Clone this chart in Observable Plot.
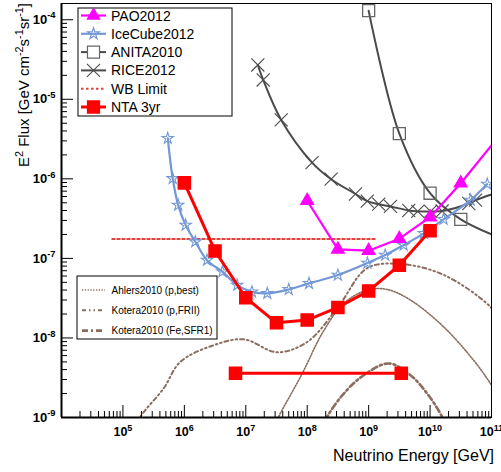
<!DOCTYPE html>
<html><head><meta charset="utf-8">
<script src="https://cdn.jsdelivr.net/npm/d3@7"></script>
<script src="https://cdn.jsdelivr.net/npm/@observablehq/plot@0.6"></script>
<style>body{margin:0;background:#fff;} svg{font-family:"Liberation Sans",Arial,Helvetica,sans-serif;}</style>
</head><body><div id="chart"></div>
<script>
// ---- data (energy in GeV, E^2 flux in GeV cm^-2 s^-1 sr^-1) ----
const paoE = [1e8, 3.16e8, 1e9, 3.16e9, 1e10, 3.16e10, 3.16e11];
const paoF = [5.3e-7, 1.3e-7, 1.25e-7, 1.77e-7, 3.3e-7, 8.8e-7, 7.9e-6];

const iceE = [5.37e5, 6.46e5, 7.94e5, 1.05e6, 1.51e6, 2.34e6, 4.17e6, 7.24e6, 1.26e7, 2.24e7, 5.0e7, 1.07e8, 3.16e8, 9.55e8, 1.86e9, 3.72e9, 7.94e9, 1.66e10, 4.57e10, 8.5e10];
const iceF = [3.23e-6, 1.01e-6, 4.68e-7, 2.62e-7, 1.62e-7, 9.5e-8, 6.8e-8, 4.61e-8, 3.8e-8, 3.63e-8, 4.07e-8, 4.85e-8, 6.17e-8, 8.73e-8, 1.1e-7, 1.47e-7, 2.06e-7, 3.1e-7, 5.4e-7, 8.6e-7];

const anitaE = [1e9, 3.16e9, 1e10, 3.16e10, 3.16e11];
const anitaF = [1.3e-4, 3.7e-6, 6.6e-7, 3.1e-7, 1.41e-7];

const riceE = [1.57e7, 1.92e7, 3.77e7, 1.2e8, 2.45e8, 6.1e8, 9.5e8, 1.46e9, 2.27e9, 4.5e9, 6.3e9, 1.02e10, 1.57e10, 4.27e10, 5.5e10, 2e11];
const riceF = [2.7e-5, 1.75e-5, 5.5e-6, 1.6e-6, 9.9e-7, 6.45e-7, 5.25e-7, 4.8e-7, 4.5e-7, 4.0e-7, 3.9e-7, 3.9e-7, 3.94e-7, 4.9e-7, 5.4e-7, 7.6e-7];

const wbE = [6.7e4, 1.38e9];
const wbF = [1.75e-7, 1.75e-7];

const ntaE = [1e6, 3.16e6, 1e7, 3.16e7, 1e8, 3.16e8, 1e9, 3.16e9, 1e10];
const ntaF = [8.9e-7, 1.24e-7, 3.2e-8, 1.55e-8, 1.68e-8, 2.42e-8, 3.9e-8, 8.2e-8, 2.22e-7];

const ntaLowE = [6.8e6, 3.4e9];
const ntaLowF = [3.6e-9, 3.6e-9];

const ahlersE = [2.24e7, 3.4e7, 8.3e7, 1.75e8, 3.94e8, 9.5e8, 2e9, 4.8e9, 1.66e10, 5.1e10, 9.6e10, 1.6e11];
const ahlersF = [5e-10, 1.01e-9, 3.57e-9, 1.14e-8, 2.72e-8, 4e-8, 4.07e-8, 2.99e-8, 1.38e-8, 5.26e-9, 2.68e-9, 1.4e-9];

const froE = [1.26e5, 1.93e5, 4.6e5, 8.6e5, 3.0e6, 9.3e6, 3.24e7, 1e8, 3.15e8, 9.5e8, 3.3e9, 1.67e10, 9.6e10, 1.6e11];
const froF = [5e-10, 1.02e-9, 2.32e-9, 5e-9, 8.1e-9, 9.6e-9, 6.6e-9, 8.9e-9, 2.42e-8, 7.55e-8, 8.5e-8, 6.2e-8, 2.46e-8, 1.4e-8];

const feE = [1.58e8, 2.11e8, 3.94e8, 8.3e8, 2.13e9, 4.8e9, 8.97e9, 1.57e10, 2e10];
const feF = [6.3e-10, 1.02e-9, 2.0e-9, 3.4e-9, 4.78e-9, 3.4e-9, 2.0e-9, 1.02e-9, 6.3e-10];

const legendTop = ["PAO2012", "IceCube2012", "ANITA2010", "RICE2012", "WB Limit", "NTA 3yr"];
const legendModels = ["Ahlers2010 (p,best)", "Kotera2010 (p,FRII)", "Kotera2010 (Fe,SFR1)"];

const xTickLabels = [1e5, 1e6, 1e7, 1e8, 1e9, 1e10, 1e11];
const yTickLabels = [1e-9, 1e-8, 1e-7, 1e-6, 1e-5, 1e-4];
const xTitle = "Neutrino Energy [GeV]";
const yTitle = "E^{2} Flux [GeV cm^{-2}s^{-1}sr^{-1}]";

// ---- layout ----
const W = 501, H = 472, mL = 61, mR = 10, mT = 3, mB = 55;
const plotW = W - mL - mR, plotH = H - mT - mB;
const xDomain = [1e4, 1e11], yDomain = [1e-9, 1.6e-4];
const blue = "#7398d6", gray = "#4a4a4a", magenta = "#ff00ff", red = "#ff0000", wbRed = "#e0443c", brown = "#8a6d5e";

const zip = (E, F) => E.map((e, i) => ({e, f: F[i]}));
const pao = zip(paoE, paoF), ice = zip(iceE, iceF), anita = zip(anitaE, anitaF), rice = zip(riceE, riceF);
const wb = zip(wbE, wbF), nta = zip(ntaE, ntaF), ntaLow = zip(ntaLowE, ntaLowF);
const ahlers = zip(ahlersE, ahlersF), fro = zip(froE, froF), fe = zip(feE, feF);

const xMajor = d3.range(4, 12).map(n => Math.pow(10, n));
const yMajor = d3.range(-9, -3).map(n => Math.pow(10, n));
const xMinor = [], yMinor = [];
for (let n = 4; n < 11; n++) for (let k = 2; k < 10; k++) xMinor.push(k * Math.pow(10, n));
for (let n = -9; n < -3; n++) for (let k = 2; k < 10; k++) { const v = k * Math.pow(10, n); if (v < yDomain[1]) yMinor.push(v); }

const fmt = d => `10^{${Math.round(Math.log10(d))}}`;

const chart = Plot.plot({
  width: W, height: H, marginLeft: mL, marginRight: mR, marginTop: mT, marginBottom: mB,
  style: {fontFamily: "Liberation Sans, Arial, Helvetica, sans-serif", background: "#fff", color: "#000"},
  x: {type: "log", domain: xDomain},
  y: {type: "log", domain: yDomain},
  marks: [
    // theoretical models
    Plot.line(ahlers, {x: "e", y: "f", curve: "catmull-rom", stroke: brown, strokeWidth: 1.6, strokeDasharray: "1.2,1.6", clip: true}),
    Plot.line(fro, {x: "e", y: "f", curve: "catmull-rom", stroke: brown, strokeWidth: 2, strokeDasharray: "4,3,1.5,3,1.5,3", clip: true}),
    Plot.line(fe, {x: "e", y: "f", curve: "catmull-rom", stroke: brown, strokeWidth: 2.6, strokeDasharray: "6,3,2,3", clip: true}),
    // WB limit
    Plot.line(wb, {x: "e", y: "f", stroke: wbRed, strokeWidth: 2, strokeDasharray: "2.5,2.5", clip: true}),
    // RICE
    Plot.line(rice, {x: "e", y: "f", curve: "catmull-rom", stroke: gray, strokeWidth: 2, clip: true}),
    Plot.dot(rice, {x: "e", y: "f", symbol: "times", r: 6, stroke: gray, strokeWidth: 1.1, clip: true}),
    // ANITA
    Plot.line(anita, {x: "e", y: "f", curve: "catmull-rom", stroke: gray, strokeWidth: 2, clip: true}),
    Plot.dot(anita, {x: "e", y: "f", symbol: "square", r: 6.8, fill: "none", stroke: "#666", strokeWidth: 1.3, clip: true}),
    // IceCube
    Plot.line(ice, {x: "e", y: "f", curve: "catmull-rom", stroke: blue, strokeWidth: 2.2, clip: true}),
    Plot.dot(ice, {x: "e", y: "f", symbol: "star", r: 3.6, fill: "none", stroke: blue, strokeWidth: 1.1, clip: true}),
    // PAO
    Plot.line(pao, {x: "e", y: "f", stroke: magenta, strokeWidth: 2.2, clip: true}),
    Plot.dot(pao, {x: "e", y: "f", symbol: "triangle", r: 4.6, fill: magenta, stroke: magenta, clip: true}),
    // NTA
    Plot.line(nta, {x: "e", y: "f", stroke: red, strokeWidth: 3, clip: true}),
    Plot.dot(nta, {x: "e", y: "f", symbol: "square", r: 6.8, fill: red, stroke: red, clip: true}),
    Plot.line(ntaLow, {x: "e", y: "f", stroke: red, strokeWidth: 3, clip: true}),
    Plot.dot(ntaLow, {x: "e", y: "f", symbol: "square", r: 6.8, fill: red, stroke: red, clip: true}),
    // frame, ticks
    Plot.frame({stroke: "#000", strokeWidth: 1}),
    Plot.ruleX([xDomain[0]], {stroke: "#000", strokeWidth: 2}),
    Plot.ruleY([yDomain[0]], {stroke: "#000", strokeWidth: 2}),
    Plot.tickX(xMinor, {x: d => d, insetTop: plotH - 6, stroke: "#000", strokeWidth: 1}),
    Plot.tickX(xMajor, {x: d => d, insetTop: plotH - 12, stroke: "#000", strokeWidth: 1}),
    Plot.tickY(yMinor, {y: d => d, insetRight: plotW - 6, stroke: "#000", strokeWidth: 1}),
    Plot.tickY(yMajor, {y: d => d, insetRight: plotW - 12, stroke: "#000", strokeWidth: 1}),
    Plot.axisX(xTickLabels, {tickSize: 0, tickPadding: 10, tickFormat: fmt, fontSize: 12.5, fontWeight: "bold", label: null}),
    Plot.axisY(yTickLabels, {tickSize: 0, tickPadding: 6, tickFormat: fmt, fontSize: 13, fontWeight: "bold", label: null})
  ]
});
document.getElementById("chart").append(chart);

// rich text with superscripts ^{...}
function rich(node, str, fs) {
  const t = d3.select(node);
  t.text(null);
  const re = /\^\{([^}]*)\}/g;
  const sh = fs * 0.42;
  let last = 0, m, up = false;
  while ((m = re.exec(str))) {
    if (m.index > last) { t.append("tspan").attr("dy", up ? sh : null).text(str.slice(last, m.index)); up = false; }
    t.append("tspan").attr("dy", up ? null : -sh).attr("font-size", fs * 0.72).text(m[1]);
    up = true; last = re.lastIndex;
  }
  if (last < str.length) t.append("tspan").attr("dy", up ? sh : null).text(str.slice(last));
}

const svg = d3.select(chart);
svg.selectAll("text").each(function() {
  const s = this.textContent;
  if (s.startsWith("10^{")) {
    const fs = +d3.select(this.parentNode).attr("font-size") || 12.5;
    d3.select(this).attr("font-weight", "bold");
    rich(this, s, fs);
  }
});

// axis titles
const yt = svg.append("text").attr("transform", `translate(29,3) rotate(-90)`)
  .attr("text-anchor", "end").attr("font-size", 15).attr("fill", "#000");
rich(yt.node(), yTitle, 15);
svg.append("text").attr("x", 494).attr("y", 461).attr("text-anchor", "end")
  .attr("font-size", 16).attr("fill", "#000").text(xTitle);

// legend (top)
const sym = (type, r) => d3.symbol().type(type).size(Math.PI * r * r)();
const L1 = svg.append("g").attr("text-anchor", "start");
L1.append("rect").attr("x", 78).attr("y", 8).attr("width", 154).attr("height", 108)
  .attr("fill", "#fff").attr("stroke", "#000").attr("stroke-width", 1);
const topStyles = [
  {stroke: magenta, w: 2.2, sym: d3.symbolTriangle, r: 4.6, fill: magenta, sstroke: magenta},
  {stroke: blue, w: 2.2, sym: d3.symbolStar, r: 3.6, fill: "none", sstroke: blue},
  {stroke: gray, w: 2, sym: d3.symbolSquare, r: 6.8, fill: "#fff", sstroke: "#666"},
  {stroke: gray, w: 2, sym: d3.symbolTimes, r: 6, fill: "none", sstroke: gray},
  {stroke: wbRed, w: 2, dash: "2.5,2.5"},
  {stroke: red, w: 3, sym: d3.symbolSquare, r: 6.8, fill: red, sstroke: red}
];
legendTop.forEach((name, i) => {
  const y = 15.5 + i * 18.3, s = topStyles[i];
  L1.append("line").attr("x1", 81).attr("x2", 106).attr("y1", y).attr("y2", y)
    .attr("stroke", s.stroke).attr("stroke-width", s.w).attr("stroke-dasharray", s.dash || null);
  if (s.sym) L1.append("path").attr("d", sym(s.sym, s.r)).attr("transform", `translate(93.5,${y})`)
    .attr("fill", s.fill).attr("stroke", s.sstroke).attr("stroke-width", s.sym === d3.symbolTimes ? 1.1 : 1.2);
  L1.append("text").attr("x", 111).attr("y", y).attr("dy", "0.36em").attr("text-anchor", "start")
    .attr("font-size", 14).attr("fill", "#000").text(name);
});

// legend (models)
const L2 = svg.append("g").attr("text-anchor", "start");
L2.append("rect").attr("x", 77).attr("y", 276).attr("width", 140).attr("height", 63)
  .attr("fill", "#fff").attr("stroke", "#000").attr("stroke-width", 1);
const modelStyles = [
  {w: 1.6, dash: "1.2,1.6"},
  {w: 2, dash: "4,3,1.5,3,1.5,3"},
  {w: 2.6, dash: "6,3,2,3"}
];
legendModels.forEach((name, i) => {
  const y = 290 + i * 20.3, s = modelStyles[i];
  L2.append("line").attr("x1", 82).attr("x2", 105).attr("y1", y).attr("y2", y)
    .attr("stroke", brown).attr("stroke-width", s.w).attr("stroke-dasharray", s.dash);
  L2.append("text").attr("x", 111.5).attr("y", y).attr("dy", "0.36em").attr("text-anchor", "start")
    .attr("font-size", 10).attr("fill", "#000").text(name);
});
</script>
</body></html>
